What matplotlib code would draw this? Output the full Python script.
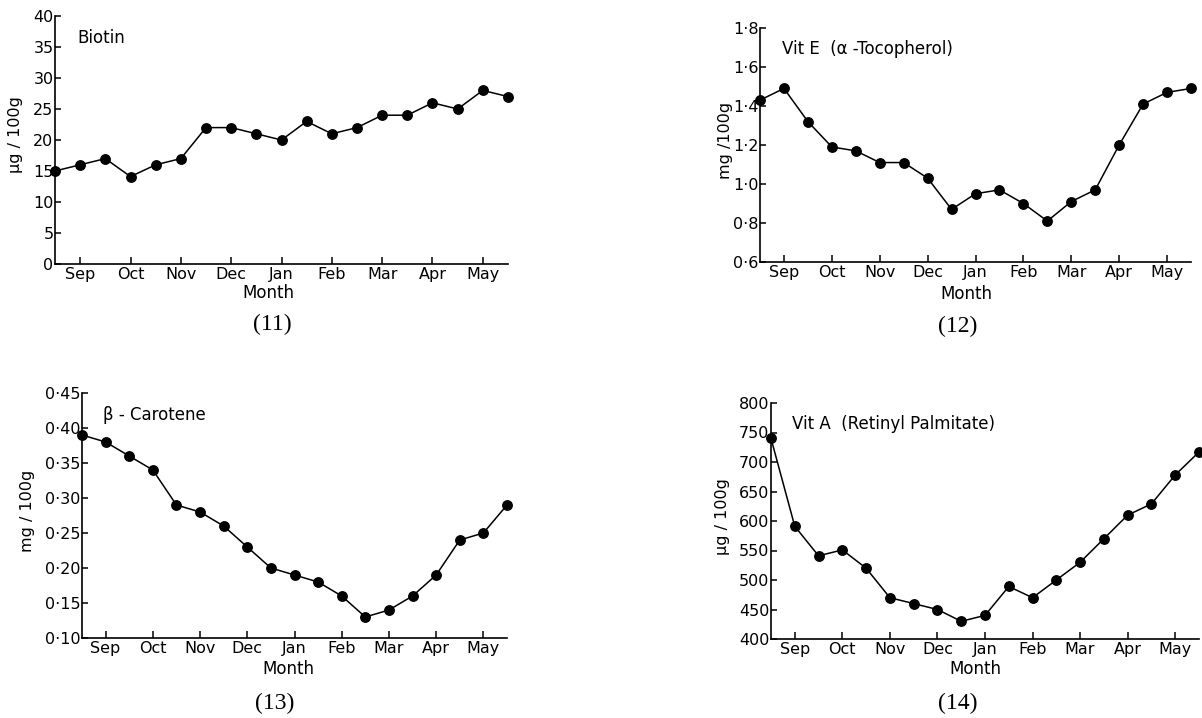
import numpy as np
from matplotlib import pyplot as plt

# data: one sample about every half month, mid-Aug to end of May
months = ['Sep', 'Oct', 'Nov', 'Dec', 'Jan', 'Feb', 'Mar', 'Apr', 'May']

biotin = [15, 16, 17, 14.1, 16, 17, 22, 22, 21, 20, 23, 21, 22, 24, 24, 26, 25, 28, 27]
vit_e = [1.43, 1.49, 1.32, 1.19, 1.17, 1.11, 1.11, 1.03, 0.87, 0.95, 0.97, 0.90,
         0.81, 0.91, 0.97, 1.20, 1.41, 1.47, 1.49]
carotene = [0.39, 0.38, 0.36, 0.34, 0.29, 0.28, 0.26, 0.23, 0.20, 0.19, 0.18, 0.16,
            0.13, 0.14, 0.16, 0.19, 0.24, 0.25, 0.29]
vit_a = [740, 591, 541, 551, 520, 470, 460, 450, 430, 440, 489, 470, 500, 530, 570,
         610, 629, 678, 717]

biotin_ticks = [0, 5, 10, 15, 20, 25, 30, 35, 40]
vit_e_ticks = [0.6, 0.8, 1.0, 1.2, 1.4, 1.6, 1.8]
vit_e_labels = ['0·6', '0·8', '1·0', '1·2', '1·4', '1·6', '1·8']
carotene_ticks = [0.10, 0.15, 0.20, 0.25, 0.30, 0.35, 0.40, 0.45]
carotene_labels = ['0·10', '0·15', '0·20', '0·25', '0·30', '0·35', '0·40', '0·45']
vit_a_ticks = [400, 450, 500, 550, 600, 650, 700, 750, 800]

W, H = 1202, 718
fig = plt.figure(figsize=(W / 100, H / 100), dpi=100)
plt.rcParams['font.family'] = ['DejaVu Sans']


def axes_px(left, top, right, bottom):
    return fig.add_axes([left / W, 1 - bottom / H, (right - left) / W, (bottom - top) / H])


def text_px(x, y, s, **kw):
    fig.text(x / W, 1 - y / H, s, ha='center', va='center', **kw)


def panel(box, values, yticks, ylabels, ylabel, name, ylab_x, month_xy, cap_xy, caption):
    ax = axes_px(*box)
    x = np.arange(len(values))
    ax.plot(x, values, '-o', color='black', lw=1.1, ms=6.8, clip_on=False, zorder=3)
    ax.set_xlim(0, len(values) - 1)
    ax.set_ylim(yticks[0], yticks[-1])
    ax.set_xticks(x[1::2])
    ax.set_xticklabels(months, fontsize=11.5)
    ax.set_yticks(yticks)
    ax.set_yticklabels(ylabels, fontsize=11.5)
    ax.spines['top'].set_visible(False)
    ax.spines['right'].set_visible(False)
    for s in ['left', 'bottom']:
        ax.spines[s].set_linewidth(1.2)
    ax.tick_params(axis='x', direction='in', length=5, width=1.1, pad=2)
    ax.tick_params(axis='y', direction='in', length=4, width=1.1, pad=1)
    ax.set_ylabel(ylabel, fontsize=11.5, va='center')
    ax.yaxis.set_label_coords(ylab_x, 0.52)
    ax.text(0.05, 0.91, name, transform=ax.transAxes, fontsize=12, va='center')
    text_px(month_xy[0], month_xy[1], 'Month', fontsize=12)
    text_px(cap_xy[0], cap_xy[1], caption, fontsize=17, family='Liberation Serif')
    return ax


panel((55, 16, 508, 264), biotin, biotin_ticks, [str(t) for t in biotin_ticks],
      'µg / 100g', 'Biotin', -0.088, (268, 293), (272, 324), '(11)')
panel((760, 28, 1191, 262), vit_e, vit_e_ticks, vit_e_labels,
      'mg /100g', 'Vit E  (α -Tocopherol)', -0.081, (966, 294), (958, 326), '(12)')
panel((82, 393, 507, 638), carotene, carotene_ticks, carotene_labels,
      'mg / 100g', 'β - Carotene', -0.129, (288, 669), (275, 703), '(13)')
panel((771, 403, 1199, 639), vit_a, vit_a_ticks, [str(t) for t in vit_a_ticks],
      'µg / 100g', 'Vit A  (Retinyl Palmitate)', -0.114, (975, 669), (958, 703), '(14)')

fig.savefig('out.png', dpi=100)
